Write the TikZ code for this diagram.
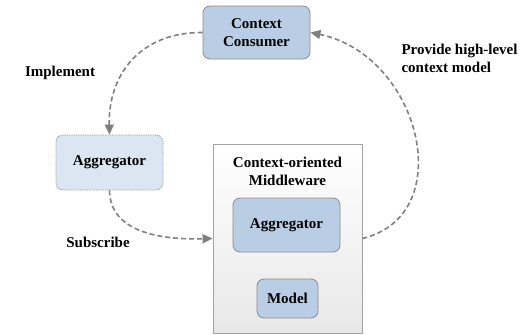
\documentclass[tikz,border=0pt]{standalone}
\usepackage{fontspec}
\setmainfont{Liberation Serif}
\usetikzlibrary{arrows.meta}
\definecolor{boxblue}{HTML}{B9CDE5}
\definecolor{boxpale}{HTML}{DCE6F2}
\definecolor{edgegray}{HTML}{8C8C8C}
\definecolor{flowgray}{HTML}{808080}

\begin{document}
\begin{tikzpicture}[x=1pt,y=-1pt,
    every node/.style={font=\fontsize{15}{18}\selectfont\bfseries,align=center},
    box/.style={draw=edgegray,line width=0.8pt,rounded corners=7pt,fill=boxblue,inner sep=0pt},
    container/.style={draw=edgegray!80,line width=0.8pt,top color=white,bottom color=gray!18,inner sep=0pt},
    flow/.style={draw=flowgray,line width=1.6pt,dash pattern=on 5pt off 3pt,
        -{Triangle[length=10pt,width=9pt]}}]
    \useasboundingbox (0,0) rectangle (528,335);

    % boxes
    \node[box,minimum width=107pt,minimum height=53pt] (consumer) at (256.5,32.5) {Context\\Consumer};
    \node[box,fill=boxpale,densely dotted,minimum width=107pt,minimum height=55pt] (aggleft) at (109.5,162.5) {Aggregator};
    \node[container,minimum width=149pt,minimum height=189pt] (middleware) at (287.5,238.5) {};
    \node (mwtitle) at (287.5,171) {Context-oriented\\Middleware};
    \node[box,minimum width=107pt,minimum height=54pt] (aggright) at (286.5,225) {Aggregator};
    \node[box,minimum width=61pt,minimum height=39pt] (model) at (287.5,298.5) {Model};

    % connectors
    \draw[flow] (consumer.west) .. controls (140,32) and (108,75) .. (aggleft.north);
    \draw[flow] (aggleft.south) .. controls (110,232) and (160,240) .. (middleware.west);
    \draw[flow] (middleware.east) .. controls (460,215) and (420,55) .. (consumer.east);

    % labels
    \node (implement) at (60,73) {Implement};
    \node (subscribe) at (98,242) {Subscribe};
    \node[anchor=west,align=left] (provide) at (398,58.5) {Provide high-level\\context model};
\end{tikzpicture}
\end{document}
